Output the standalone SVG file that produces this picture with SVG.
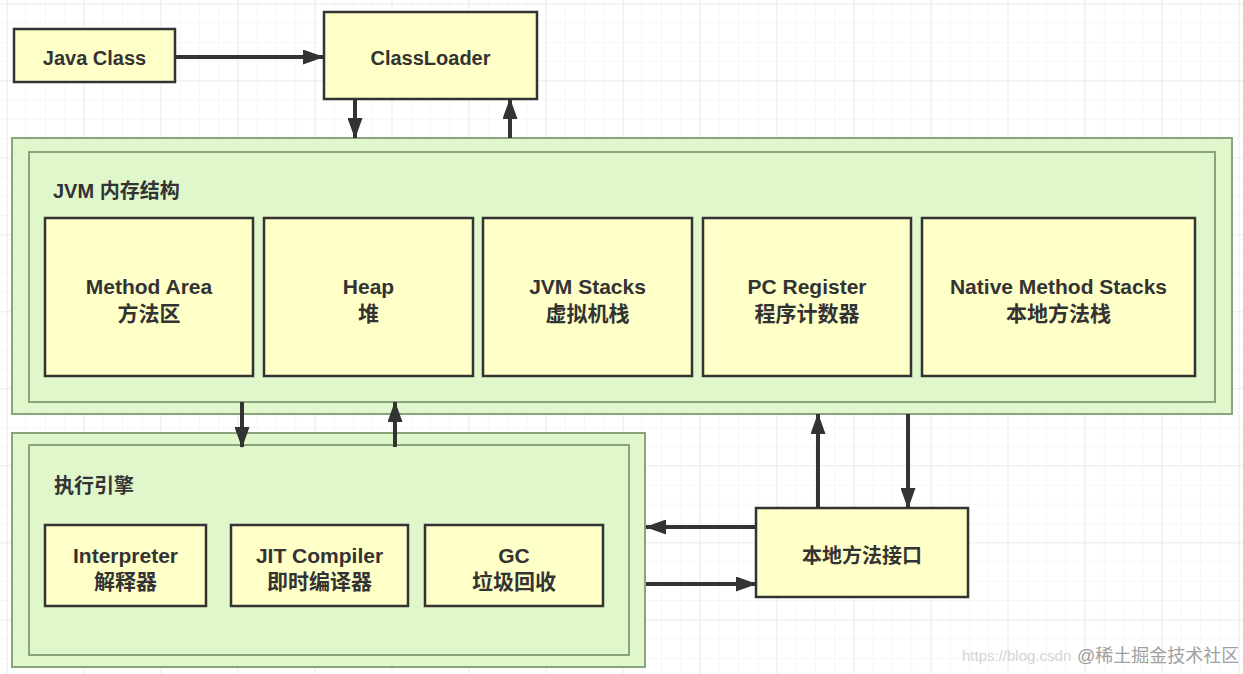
<svg xmlns="http://www.w3.org/2000/svg" width="1243" height="674" viewBox="0 0 1243 674">
<style>
.cont{fill:#e0f7cc;stroke:#8aa47c;stroke-width:2}
.node{fill:#ffffc8;stroke:#333;stroke-width:2.5}
.t{font-family:"Liberation Sans","Noto Sans CJK SC",sans-serif;font-weight:bold;fill:#333;text-anchor:middle;font-size:21px}
.tl{font-family:"Liberation Sans","Noto Sans CJK SC",sans-serif;font-weight:bold;fill:#333;font-size:20px}
.c{fill:none;stroke:#333;stroke-width:4;marker-end:url(#ah)}
.wm{font-family:"Liberation Sans","Noto Sans CJK SC",sans-serif}
</style>
<defs>
<pattern id="gminor" x="6.5" y="3.3" width="19.25" height="19.25" patternUnits="userSpaceOnUse">
<path d="M0,0 H19.25 M0,0 V19.25" stroke="#efefef" stroke-width="1" fill="none"/>
</pattern>
<pattern id="gmajor" x="6.5" y="3.3" width="77" height="77" patternUnits="userSpaceOnUse">
<path d="M0,0 H77 M0,0 V77" stroke="#e3e3e3" stroke-width="1.2" fill="none"/>
</pattern>
<marker id="ah" markerUnits="userSpaceOnUse" markerWidth="21" markerHeight="15" refX="20" refY="7.5" orient="auto">
<path d="M0,0 L21,7.5 L0,15 z" fill="#333"/>
</marker>
</defs>
<rect width="1243" height="674" fill="#fff"/>
<rect width="1243" height="674" fill="url(#gminor)"/>
<rect width="1243" height="674" fill="url(#gmajor)"/>

<g id="java-class"><rect class="node" x="14" y="29" width="161" height="53"/><text class="t" x="94.5" y="65" style="font-size:20px">Java Class</text></g>
<g id="classloader"><rect class="node" x="324" y="12" width="213" height="87"/><text class="t" x="430.5" y="65" style="font-size:20px">ClassLoader</text></g>

<g id="jvm-memory">
<rect class="cont" x="12" y="138" width="1220" height="276"/>
<rect class="cont" x="29" y="152" width="1186" height="250"/>
<text class="tl" x="53" y="198">JVM 内存结构</text>
</g>
<g id="method-area"><rect class="node" x="45" y="218" width="208" height="158"/><text class="t" x="149" y="294">Method Area</text><text class="t" x="149" y="321">方法区</text></g>
<g id="heap"><rect class="node" x="264" y="218" width="209" height="158"/><text class="t" x="368.5" y="294">Heap</text><text class="t" x="368.5" y="321">堆</text></g>
<g id="jvm-stacks"><rect class="node" x="483" y="218" width="209" height="158"/><text class="t" x="587.5" y="294">JVM Stacks</text><text class="t" x="587.5" y="321">虚拟机栈</text></g>
<g id="pc-register"><rect class="node" x="703" y="218" width="208" height="158"/><text class="t" x="807" y="294">PC Register</text><text class="t" x="807" y="321">程序计数器</text></g>
<g id="native-method-stacks"><rect class="node" x="922" y="218" width="273" height="158"/><text class="t" x="1058.5" y="294">Native Method Stacks</text><text class="t" x="1058.5" y="321">本地方法栈</text></g>

<g id="execution-engine">
<rect class="cont" x="12" y="433" width="633" height="234"/>
<rect class="cont" x="29" y="445" width="600" height="210"/>
<text class="tl" x="54" y="493">执行引擎</text>
</g>
<g id="interpreter"><rect class="node" x="45" y="525" width="161" height="81"/><text class="t" x="125.5" y="563">Interpreter</text><text class="t" x="125.5" y="589">解释器</text></g>
<g id="jit-compiler"><rect class="node" x="231" y="525" width="177" height="81"/><text class="t" x="319.5" y="563">JIT Compiler</text><text class="t" x="319.5" y="589">即时编译器</text></g>
<g id="gc"><rect class="node" x="425" y="525" width="178" height="81"/><text class="t" x="514" y="563">GC</text><text class="t" x="514" y="589">垃圾回收</text></g>

<g id="native-interface"><rect class="node" x="756" y="508" width="212" height="89"/><text class="t" x="862" y="563" style="font-size:20px">本地方法接口</text></g>

<g id="connectors">
<line class="c" x1="175" y1="57" x2="323" y2="57"/>
<line class="c" x1="355" y1="99" x2="355" y2="138"/>
<line class="c" x1="510" y1="138" x2="510" y2="99"/>
<line class="c" x1="242" y1="402" x2="242" y2="447"/>
<line class="c" x1="395" y1="447" x2="395" y2="402"/>
<line class="c" x1="818" y1="508" x2="818" y2="414"/>
<line class="c" x1="908" y1="414" x2="908" y2="508"/>
<line class="c" x1="756" y1="527" x2="646" y2="527"/>
<line class="c" x1="646" y1="584" x2="756" y2="584"/>
</g>

<text class="wm" x="962" y="661" font-size="15" fill="#d4d4d4">https://blog.csdn</text>
<text class="wm" x="1077" y="662" font-size="18" fill="#a0a0a0">@稀土掘金技术社区</text>
</svg>
